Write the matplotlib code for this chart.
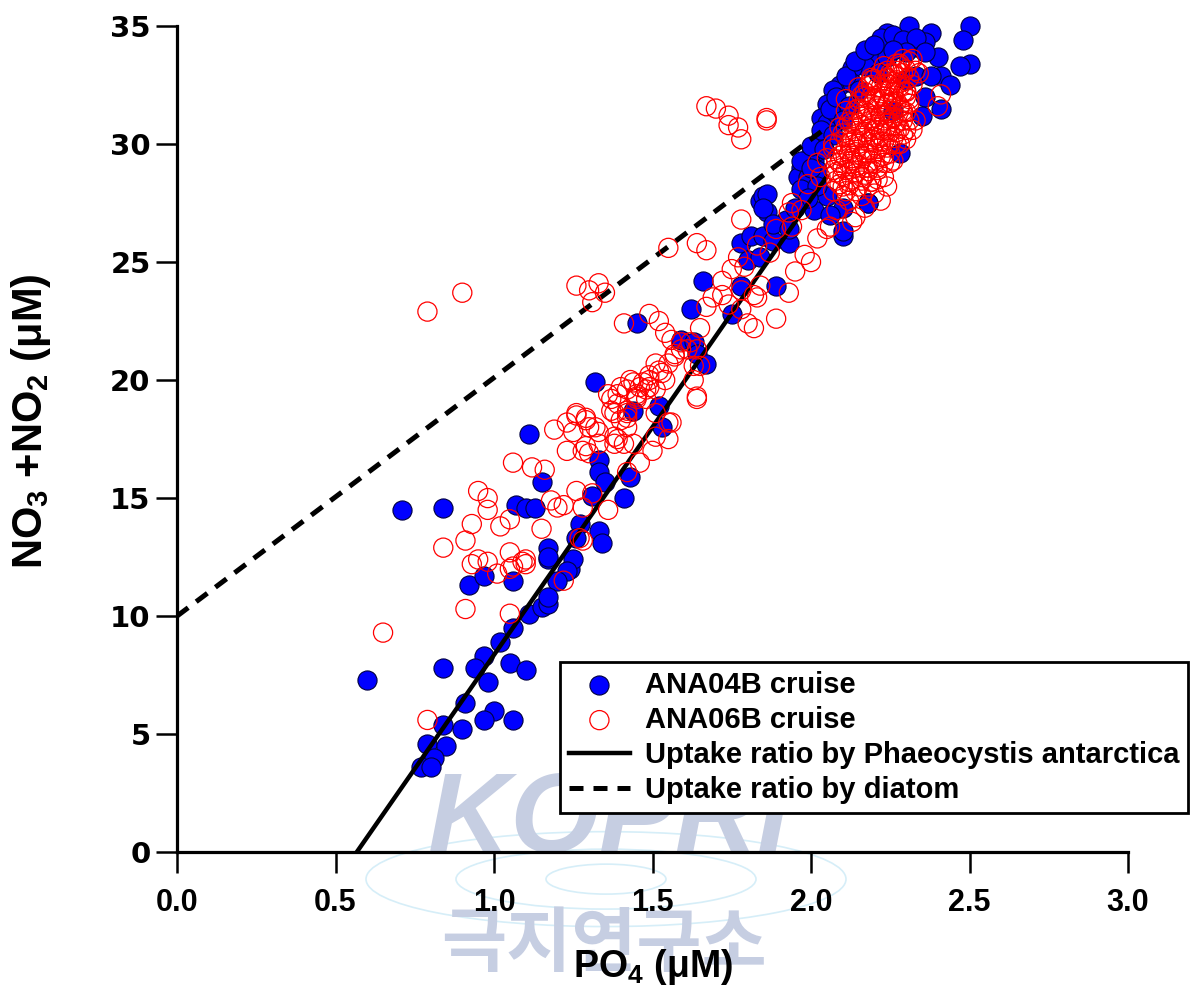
"""NO3+NO2 vs PO4 scatter for the ANA04B / ANA06B cruises with uptake-ratio lines."""
import matplotlib

matplotlib.use("Agg")
import matplotlib.pyplot as plt
import numpy as np
from matplotlib.patches import Ellipse

plt.rcParams["mathtext.fontset"] = "custom"
plt.rcParams["mathtext.rm"] = "Liberation Sans:bold"
plt.rcParams["mathtext.default"] = "rm"

SANS = ["Liberation Sans", "DejaVu Sans"]

# ANA04B cruise (filled blue)
blue_po4 = [
    0.60, 0.84, 0.92, 0.97, 1.06, 1.17, 1.24, 1.11, 1.15, 1.17, 1.06, 1.02, 0.97, 0.94,
    0.98, 1.05, 1.10, 0.91, 1.00, 0.97, 1.06, 0.84, 0.90, 0.79, 0.85, 0.81, 0.77, 0.80,
    0.71, 0.84, 1.11, 1.32, 1.15, 1.07, 1.10, 1.13, 1.33, 1.33, 1.35, 1.31, 1.41, 1.44,
    1.43, 1.27, 1.33, 1.34, 1.26, 1.17, 1.17, 1.25, 1.23, 1.20, 1.17,
    1.45, 1.62, 1.66, 1.59, 1.63, 1.64, 1.67, 1.52, 1.53, 1.78, 1.75, 1.89, 1.78, 1.81,
    1.85, 1.88, 1.80, 1.84, 1.93, 1.86, 1.84, 1.92, 1.85, 2.18, 2.10, 1.97, 2.01, 2.02,
    2.50, 2.48, 2.50, 2.47, 2.41, 2.44, 2.41, 2.38, 2.31, 2.36, 2.40, 2.24, 2.22, 2.28,
    2.33, 2.19, 2.24, 2.17, 2.13, 2.09, 2.07, 2.13, 2.05, 2.03, 2.05, 2.08, 2.03, 2.00,
    1.97, 1.96, 1.99, 1.97, 1.86, 1.85, 1.88, 1.93, 2.10, 2.18, 2.28, 2.26, 2.30, 2.33,
    2.01, 2.05, 2.10, 1.97, 2.02,
    2.00, 2.03, 2.06, 2.08, 2.11, 2.14, 2.17, 2.20, 2.26, 2.29, 2.33, 2.36, 2.30, 2.26,
    2.21, 2.15, 2.12, 2.10, 2.07, 2.04, 2.00, 2.02, 1.99, 1.95, 2.06, 2.36, 2.35, 2.38,
]
blue_no3 = [
    7.3, 7.8, 11.3, 11.7, 11.5, 12.4, 12.0, 10.1, 10.4, 10.5, 9.5, 8.9, 8.3, 7.8,
    7.2, 8.0, 7.7, 6.3, 6.0, 5.6, 5.6, 5.4, 5.2, 4.6, 4.5, 4.0, 3.6, 3.6,
    14.5, 14.6, 17.7, 19.9, 15.7, 14.7, 14.6, 14.6, 16.6, 16.1, 15.7, 15.1, 15.0, 18.7,
    15.9, 13.9, 13.6, 13.1, 13.3, 12.9, 12.5, 12.4, 11.9, 11.5, 10.8,
    22.4, 23.0, 24.2, 21.7, 21.6, 21.1, 20.7, 18.9, 18.0, 24.0, 22.8, 24.0, 25.8, 26.1,
    26.1, 25.9, 25.1, 25.2, 25.8, 27.1, 27.6, 26.8, 27.8, 27.5, 26.1, 28.8, 29.3, 29.7,
    35.0, 34.4, 33.4, 33.3, 32.9, 32.5, 31.5, 34.7, 35.0, 34.3, 33.7, 34.7, 34.5, 34.3,
    34.1, 33.7, 33.7, 33.3, 33.2, 32.5, 32.3, 32.6, 31.7, 31.1, 30.9, 31.3, 30.3, 29.6,
    29.0, 28.6, 28.6, 28.1, 27.9, 27.3, 26.6, 26.4, 26.3, 27.5, 29.6, 31.4, 32.7, 32.9,
    27.2, 27.8, 27.3, 29.3, 28.9,
    29.9, 30.6, 31.5, 32.0, 32.9, 33.5, 34.0, 34.2, 34.6, 34.4, 34.5, 33.9, 33.9, 34.0,
    33.0, 32.3, 31.6, 31.0, 30.4, 29.8, 29.0, 28.2, 27.7, 27.3, 27.0, 32.0, 31.2, 32.9,
]

# ANA06B cruise (open red)
red_po4 = [
    0.79, 0.90, 0.65, 0.79,
    1.67, 1.70, 1.74, 1.74, 1.77, 1.78, 1.86,
    1.78, 1.64, 1.67, 1.55, 1.26, 1.30, 1.33, 1.35, 1.31,
    1.69, 1.72, 1.67, 1.74, 1.78, 1.82, 1.82, 1.89, 1.80, 1.65, 1.78,
    1.49, 1.52, 1.41, 1.54, 1.56, 1.59, 1.57, 1.59, 1.62, 1.64, 1.63, 1.51, 1.53, 1.54,
    1.49, 1.47, 1.44, 1.42, 1.48, 1.51, 1.45, 1.39, 1.37, 1.37, 1.42, 1.40, 1.64, 1.55,
    1.55, 1.51, 1.50,
    1.26, 1.23, 1.29, 1.19, 1.25, 1.30, 1.33, 1.38, 1.33, 1.38, 1.29, 1.23, 1.28, 1.41,
    1.44, 1.06, 1.12, 1.16, 0.95, 0.98, 0.98, 0.93, 0.91, 0.84, 1.02, 1.05, 1.15, 1.18,
    1.22, 1.20, 1.28, 1.26, 1.31, 1.36, 1.42, 1.46, 1.27, 0.95, 0.98, 1.05, 1.09,
    1.36, 1.40, 1.43, 1.45, 1.39, 1.42, 1.39, 0.93, 1.01, 1.10, 1.06, 1.28, 1.22, 0.91,
    1.05, 1.05, 1.10, 1.30,
    1.61, 1.57, 1.65, 1.63, 1.64, 1.52, 1.49, 1.55, 1.46, 1.49, 1.45, 1.48, 1.51, 1.42,
    1.38, 1.26, 1.29, 1.32, 1.42, 1.56, 1.75, 1.72, 1.84, 1.83, 1.93, 1.77, 1.79, 1.87,
    1.83, 1.93, 1.89, 1.94, 1.95, 1.98, 2.02, 2.06, 2.00,
    1.86, 2.41, 2.40, 2.33, 2.32, 2.30, 1.97, 1.94, 2.08, 2.13, 2.05, 2.18, 2.21, 2.25,
    1.99, 2.03, 2.02, 2.05, 2.07, 2.09, 2.11, 2.11, 2.15, 2.19, 2.24, 2.28, 2.32, 2.33,
    2.30, 2.29,
    2.10, 2.12, 2.14, 2.16, 2.18, 2.20, 2.22, 2.24, 2.26,
    2.12, 2.14, 2.16, 2.18, 2.20, 2.22, 2.24, 2.26, 2.28,
    2.14, 2.16, 2.18, 2.20, 2.22, 2.24, 2.26, 2.28, 2.30,
    2.10, 2.08, 2.09, 2.11, 2.13, 2.15, 2.17, 2.19,
    2.16, 2.19, 2.21, 2.23, 2.25, 2.27, 2.29, 2.31,
    2.20, 2.23, 2.26, 2.28, 2.30, 2.32, 2.34,
    2.15, 2.17, 2.19, 2.21, 2.23, 2.25, 2.27, 2.29,
    2.13, 2.18, 2.22, 2.24, 2.20, 2.26, 2.12, 2.24, 2.17, 2.22, 2.14, 2.10,
    2.07, 2.07, 2.07, 2.09, 2.09, 2.09, 2.11, 2.11, 2.11, 2.11,
    2.13, 2.13, 2.13, 2.13, 2.15, 2.15, 2.15, 2.15, 2.15,
    2.17, 2.17, 2.17, 2.17, 2.17, 2.19, 2.19, 2.19, 2.19, 2.19, 2.19,
    2.21, 2.21, 2.21, 2.21, 2.21, 2.23, 2.23, 2.23, 2.23, 2.23, 2.23,
    2.25, 2.25, 2.25, 2.25, 2.25, 2.27, 2.27, 2.27, 2.27, 2.27,
    2.29, 2.29, 2.29, 2.29, 2.31, 2.31, 2.31, 2.31,
    2.08, 2.08, 2.10, 2.10, 2.10, 2.12, 2.12, 2.12, 2.12,
    2.14, 2.14, 2.14, 2.14, 2.16, 2.16, 2.16, 2.16, 2.16,
    2.18, 2.18, 2.18, 2.18, 2.18, 2.20, 2.20, 2.20, 2.20, 2.20,
    2.22, 2.22, 2.22, 2.22, 2.22, 2.24, 2.24, 2.24, 2.24,
    2.26, 2.26, 2.26, 2.26, 2.28, 2.28, 2.28, 2.28, 2.30, 2.30, 2.30,
]
red_no3 = [
    22.9, 23.7, 9.3, 5.6,
    31.6, 31.5, 31.2, 30.8, 30.7, 30.2, 31.1,
    26.8, 25.8, 25.5, 25.6, 24.0, 23.8, 24.1, 23.7, 23.3,
    23.5, 23.6, 23.1, 23.2, 23.8, 23.6, 22.2, 22.6, 22.4, 22.2, 23.0,
    22.8, 22.5, 22.4, 22.0, 21.7, 21.6, 21.1, 21.3, 21.6, 21.3, 20.6, 20.7, 20.3, 20.0,
    20.2, 19.9, 19.9, 19.6, 19.6, 19.6, 19.3, 19.4, 19.2, 18.7, 18.7, 18.3, 19.2, 18.2,
    17.5, 17.6, 17.0,
    18.5, 18.2, 18.4, 17.9, 17.8, 18.0, 17.8, 17.6, 17.3, 17.3, 17.2, 17.0, 17.0, 17.3,
    17.3, 16.5, 16.3, 16.2, 15.3, 15.0, 14.5, 13.9, 13.2, 12.9, 13.8, 14.1, 13.7, 14.9,
    14.7, 14.6, 14.6, 15.3, 15.2, 14.5, 16.1, 16.5, 13.3, 12.4, 12.3, 12.7, 12.3,
    19.4, 19.7, 20.0, 19.4, 19.0, 18.4, 17.5, 12.2, 11.8, 12.4, 12.1, 13.2, 11.5, 10.3,
    10.1, 12.0, 12.2, 16.9,
    21.3, 21.0, 20.6, 20.0, 19.3, 20.4, 20.0, 20.7, 19.7, 19.7, 19.2, 19.2, 18.6, 18.6,
    18.6, 18.6, 18.3, 18.0, 18.0, 18.2, 24.7, 24.2, 24.0, 23.5, 23.7, 25.2, 24.8, 25.4,
    25.7, 27.1, 26.4, 26.5, 24.6, 25.3, 26.0, 26.5, 25.0,
    31.0, 32.1, 31.6, 31.0, 30.6, 30.2, 27.2, 27.5, 27.2, 26.7, 26.4, 28.2, 28.5, 29.2,
    28.3, 28.6, 29.2, 29.4, 30.0, 30.7, 31.4, 31.9, 32.4, 32.8, 33.1, 33.4, 33.6, 33.1,
    32.0, 31.4,
    29.0, 29.6, 30.2, 30.8, 31.3, 31.9, 32.4, 32.8, 33.0,
    28.4, 29.0, 29.5, 30.1, 30.6, 31.2, 31.7, 32.2, 32.6,
    28.0, 28.6, 29.0, 29.6, 30.1, 30.6, 31.1, 31.6, 32.2,
    28.2, 28.8, 29.5, 30.3, 30.9, 31.5, 32.0, 32.5,
    27.8, 28.4, 29.0, 29.5, 30.0, 30.5, 31.0, 31.7,
    27.9, 28.6, 29.3, 30.0, 30.6, 32.5, 33.0,
    29.9, 30.5, 31.0, 31.5, 32.0, 32.5, 33.1, 33.6,
    29.3, 29.6, 30.6, 31.3, 30.3, 31.8, 27.6, 28.2, 27.3, 27.6, 26.9, 27.8,
    28.0, 28.9, 29.8, 28.3, 29.2, 30.1, 28.0, 28.9, 29.8, 30.7,
    28.5, 29.4, 30.3, 31.2, 28.2, 29.1, 30.0, 30.9, 31.8,
    28.7, 29.6, 30.5, 31.4, 32.2, 28.4, 29.3, 30.2, 31.1, 32.0, 32.7,
    28.9, 29.8, 30.7, 31.6, 32.4, 29.2, 30.1, 31.0, 31.9, 32.7, 33.3,
    29.6, 30.5, 31.4, 32.3, 33.0, 30.0, 30.9, 31.8, 32.7, 33.4,
    30.4, 31.3, 32.2, 33.0, 31.0, 31.9, 32.8, 33.5,
    28.45, 29.35, 28.65, 29.55, 30.45, 28.25, 29.15, 30.05, 30.95,
    28.75, 29.65, 30.55, 31.45, 28.45, 29.35, 30.25, 31.15, 32.05,
    28.85, 29.75, 30.65, 31.55, 32.45, 29.15, 30.05, 30.95, 31.85, 32.75,
    29.45, 30.35, 31.25, 32.15, 33.0, 29.85, 30.75, 31.65, 32.55,
    30.25, 31.15, 32.05, 32.95, 30.65, 31.55, 32.45, 33.3, 31.35, 32.25, 33.15,
]

# uptake ratio lines (N:P slope, intercepts)
PHAEO_RATIO, PHAEO_PO4_AT_ZERO = 19.3, 0.567
DIATOM_RATIO, DIATOM_NO3_AT_ZERO = 10.1, 10.0
LINE_END_PO4 = 2.05

fig = plt.figure(figsize=(12, 9.99), dpi=100)
ax = fig.add_axes([0.1475, 0.147, 0.7925, 0.827])
ax.patch.set_visible(False)

# faint institute watermark behind the plot
wm = "#c6cee2"
fig.text(0.507, 0.176, "KOPRI", fontsize=82, fontweight="bold", style="italic",
         color=wm, ha="center", va="center", family="Liberation Sans", zorder=-5)
for w, h in [(0.40, 0.095), (0.25, 0.06), (0.1, 0.03)]:
    fig.add_artist(Ellipse((0.505, 0.12), w, h, transform=fig.transFigure, fill=False,
                           edgecolor="#d6eef8", lw=1.2, zorder=-6))
fig.text(0.503, 0.054, "극지연구소", fontsize=51, fontweight="bold", color=wm,
         ha="center", va="center", family=["Noto Sans CJK KR", "DejaVu Sans"], zorder=-5)

ax.scatter(blue_po4, blue_no3, s=190, c="#0000ff", edgecolors="#000040", linewidths=0.8,
           zorder=2, clip_on=False, label="ANA04B cruise")

px = np.array([PHAEO_PO4_AT_ZERO, LINE_END_PO4])
ax.plot(px, PHAEO_RATIO * (px - PHAEO_PO4_AT_ZERO), color="black", lw=3.2, zorder=3,
        label="Uptake ratio by Phaeocystis antarctica")
dx = np.array([0.0, LINE_END_PO4])
ax.plot(dx, DIATOM_NO3_AT_ZERO + DIATOM_RATIO * dx, color="black", lw=3.6,
        dashes=(2.8, 2.0), zorder=3, label="Uptake ratio by diatom")

ax.scatter(red_po4, red_no3, s=190, facecolors="none", edgecolors="#ff0000", linewidths=0.9,
           zorder=4, clip_on=False, label="ANA06B cruise")

ax.set_xlim(0, 3)
ax.set_ylim(0, 35)
ax.set_xticks(np.arange(0, 3.01, 0.5))
ax.set_yticks(np.arange(0, 36, 5))
ax.set_xticklabels([f"{v:.1f}" for v in np.arange(0, 3.01, 0.5)])
ax.spines[["top", "right"]].set_visible(False)
for sp in ("left", "bottom"):
    ax.spines[sp].set_linewidth(2.3)
ax.tick_params(direction="out", length=15, width=1.8, color="black")
ax.tick_params(axis="x", pad=11)
ax.tick_params(axis="y", pad=4)
for lab in ax.get_xticklabels():
    lab.set_family(SANS)
    lab.set_fontweight("bold")
    lab.set_fontsize(22)
for lab in ax.get_yticklabels():
    lab.set_family("DejaVu Sans")
    lab.set_fontweight("bold")
    lab.set_fontsize(21)

ax.set_xlabel("PO$_4$ (μM)", family=SANS, fontweight="bold", fontsize=27, labelpad=21)
ax.set_ylabel("NO$_3$ +NO$_2$ (μM)", family=SANS, fontweight="bold", fontsize=30)
ax.yaxis.set_label_coords(-0.13, 0.522)

h, l = ax.get_legend_handles_labels()
order = [0, 3, 1, 2]
leg = ax.legend([h[i] for i in order], [l[i] for i in order], loc="upper left",
                bbox_to_anchor=(0.4667, 0.3373), bbox_transform=fig.transFigure,
                borderaxespad=0, borderpad=0.3, handlelength=2.1, handletextpad=0.5,
                labelspacing=0.24, fancybox=False, framealpha=1,
                prop={"family": SANS, "weight": "bold", "size": 21})
leg.get_frame().set_edgecolor("black")
leg.get_frame().set_linewidth(2.0)
leg.set_zorder(10)

fig.savefig("out.png", dpi=100)
